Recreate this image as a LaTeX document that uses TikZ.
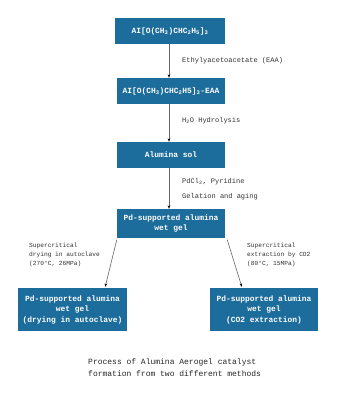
\documentclass[tikz,border=0pt]{standalone}
\usepackage{fontspec}
\setmainfont{Liberation Mono}
\usetikzlibrary{arrows.meta,calc}
\definecolor{boxblue}{HTML}{1C6C9C}
\newcommand{\sbs}[1]{\textsubscript{#1}}
\begin{document}
\begin{tikzpicture}[x=1pt,y=-1pt,
  stepbox/.style={fill=boxblue,draw=none,text=white,font=\fontsize{7.9}{10.5}\selectfont\bfseries,
    minimum width=110pt,align=center,inner sep=2pt},
  lbl/.style={font=\fontsize{7}{9}\selectfont,anchor=west,inner sep=0pt,text=black!80},
  slbl/.style={font=\fontsize{6.2}{9}\selectfont,anchor=north west,align=left,inner sep=0pt,text=black!80},
  conn/.style={draw=black!60,line width=0.6pt,-{Stealth[length=3.5pt,width=2.6pt,black]}}]
\useasboundingbox (0,0) rectangle (338,400);
\fill[white] (0,0) rectangle (338,400);

\node[stepbox,minimum height=26pt] (b1) at (170,31) {AI[O(CH\sbs{3})CHC\sbs{2}H\sbs{5}]\sbs{3}};
\node[stepbox,minimum height=26pt,minimum width=108pt] (b2) at (171,91) {AI[O(CH\sbs{3})CHC\sbs{2}H5]\sbs{3}-EAA};
\node[stepbox,minimum height=26pt,minimum width=108pt] (b3) at (171,155) {Alumina sol};
\node[stepbox,minimum height=29pt,minimum width=108pt] (b4) at (171,223.5) {Pd-supported alumina\\wet gel};
\node[stepbox,minimum height=43pt,minimum width=109pt] (b5) at (72.5,309.5) {Pd-supported alumina\\wet gel\\(drying in autoclave)};
\node[stepbox,minimum height=43pt,minimum width=108pt] (b6) at (264,309.5) {Pd-supported alumina\\wet gel\\(CO2 extraction)};

\draw[conn] ($(b1.south)+(-1,0)$) -- ($(b2.north)+(-2,0)$);
\draw[conn] ($(b2.south)+(-2,0)$) -- ($(b3.north)+(-2,0)$);
\draw[conn] ($(b3.south)+(-2,0)$) -- ($(b4.north)+(-2,0)$);
\coordinate (l0) at ($(b4.south west)+(0,1.5)$);
\coordinate (l1) at ($(b5.north east)+(-22,-1)$);
\coordinate (r0) at ($(b4.south east)+(2,1.5)$);
\coordinate (r1) at ($(b6.north west)+(32,-1)$);
\draw[conn] (l0) -- (l1);
\draw[conn] (r0) -- (r1);

\node[lbl] (t1) at (182,61) {Ethylyacetoacetate (EAA)};
\node[lbl] (t2) at (182,121) {H\sbs{2}O Hydrolysis};
\node[lbl] (t3) at (182,182) {PdCl\sbs{2}, Pyridine};
\node[lbl] (t4) at (182,197) {Gelation and aging};
\node[slbl] (t5) at (29,242.5) {Supercritical\\drying in autoclave\\(270\textdegree C, 26MPa)};
\node[slbl] (t6) at (247,242.5) {Supercritical\\extraction by CO2\\(80\textdegree C, 15MPa)};
\node[font=\fontsize{8}{12}\selectfont,anchor=north west,align=left,inner sep=0pt,text=black!85] (cap) at (88,358) {Process of Alumina Aerogel catalyst\\formation from two different methods};
\end{tikzpicture}
\end{document}
